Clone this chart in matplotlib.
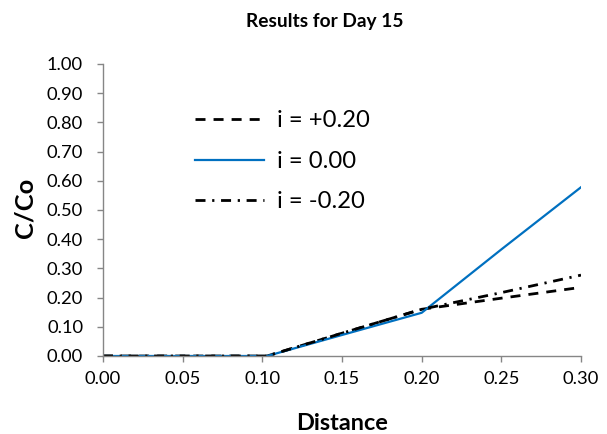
import matplotlib
matplotlib.use("Agg")
import matplotlib.pyplot as plt
from matplotlib.font_manager import FontProperties

plt.rcParams['font.family'] = ['Lato', 'DejaVu Sans']

distance = [0.00, 0.05, 0.10, 0.103, 0.15, 0.20, 0.25, 0.30]
c_pos = [0.0, 0.0, 0.0, 0.0, 0.078, 0.160, 0.198, 0.235]
c_zero = [0.0, 0.0, 0.0, 0.0, 0.072, 0.148, 0.365, 0.578]
c_neg = [0.0, 0.0, 0.0, 0.0, 0.078, 0.160, 0.217, 0.277]
labels = ["i = +0.20", "i = 0.00", "i = -0.20"]
x_ticks = [0.00, 0.05, 0.10, 0.15, 0.20, 0.25, 0.30]
y_ticks = [0.0, 0.1, 0.2, 0.3, 0.4, 0.5, 0.6, 0.7, 0.8, 0.9, 1.0]
title = "Results for Day 15"
xlab = "Distance"
ylab = "C/Co"

W, H = 607, 434
fig = plt.figure(figsize=(W / 100, H / 100), dpi=100)
renderer = fig.canvas.get_renderer()


def fit(text, target_px, weight='normal'):
    fp = FontProperties(family=['Lato', 'DejaVu Sans'], size=10, weight=weight)
    w, h, d = renderer.get_text_width_height_descent(text, fp, ismath=False)
    return 10 * target_px / w


fs_tick = fit("0.00", 36)
fs_title = fit(title, 158, 'bold')
fs_xlab = fit(xlab, 92, 'bold')
fs_ylab = fit(ylab, 60, 'bold')
fs_leg = fit(labels[0], 92)

x0, x1, y0, y1 = 103, 581, 64, 356
ax = fig.add_axes([x0 / W, 1 - y1 / H, (x1 - x0) / W, (y1 - y0) / H])

ax.plot(distance, c_pos, color='black', lw=2.0, ls=(0, (3.6, 2.9)), label=labels[0])
ax.plot(distance, c_zero, color='#0070C0', lw=1.6, ls='-', label=labels[1])
ax.plot(distance, c_neg, color='black', lw=2.0, ls=(0, (3.6, 2.4, 0.8, 2.4)), label=labels[2])

ax.set_xlim(0, 0.30)
ax.set_ylim(0, 1.0)
ax.set_xticks(x_ticks)
ax.set_yticks(y_ticks)
ax.set_xticklabels([f"{v:.2f}" for v in x_ticks])
ax.set_yticklabels([f"{v:.2f}" for v in y_ticks])
ax.tick_params(axis='both', direction='out', length=4.3, width=1, color='#868686',
               labelsize=fs_tick, labelcolor='black')
ax.tick_params(axis='y', pad=10)
ax.tick_params(axis='x', pad=6.5)
for s in ['top', 'right']:
    ax.spines[s].set_visible(False)
for s in ['left', 'bottom']:
    ax.spines[s].set_color('#868686')
    ax.spines[s].set_linewidth(1)

ax.set_xlabel(xlab, fontsize=fs_xlab, fontweight='bold')
ax.xaxis.label.set_va('baseline')
ax.xaxis.set_label_coords((342 - x0) / (x1 - x0), -(430 - y1) / (y1 - y0))
ax.set_ylabel(ylab, fontsize=fs_ylab, fontweight='bold')
ax.yaxis.label.set_va('baseline')
ax.yaxis.set_label_coords((32 - x0) / (x1 - x0), (y1 - 208) / (y1 - y0))

fig.text(325 / W, 1 - 27 / H, title, fontsize=fs_title, fontweight='bold',
         ha='center', va='baseline')

fs_leg_px = fs_leg * 100 / 72
_, th, _ = renderer.get_text_width_height_descent(
    "lp", FontProperties(family=['Lato', 'DejaVu Sans'], size=fs_leg), ismath=False)
leg = ax.legend(loc='upper left', bbox_to_anchor=(0.2, 0.8), frameon=False,
                fontsize=fs_leg, handlelength=69 / fs_leg_px,
                handletextpad=13 / fs_leg_px, borderpad=0, borderaxespad=0,
                labelspacing=max(0.0, (40.5 - th) / fs_leg_px))
fig.canvas.draw()
bb = leg.legend_handles[0].get_window_extent(renderer)
dx = 195 - bb.x0
dy = (H - 119) - (bb.y0 + bb.y1) / 2
ax_bb = ax.get_window_extent(renderer)
leg.set_bbox_to_anchor((0.2 + dx / ax_bb.width, 0.8 + dy / ax_bb.height), transform=ax.transAxes)

fig.savefig("out.png", dpi=100)
